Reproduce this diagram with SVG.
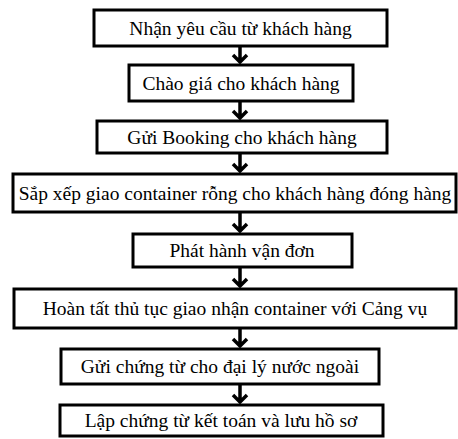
<svg xmlns="http://www.w3.org/2000/svg" width="458" height="439" viewBox="0 0 458 439">
<style>
.box{fill:#fff;stroke:#000;stroke-width:3}
.t{font-family:"Liberation Serif","Times New Roman",serif;font-size:19.5px;fill:#000;text-anchor:middle;dominant-baseline:central}
.c{fill:none;stroke:#000;stroke-width:3.5}
</style>
<rect width="458" height="439" fill="#fff"/>
<g id="connectors">
<path class="c" d="M240 46V62M233 55L240 62L247 55"/>
<path class="c" d="M240 101V118M233 111L240 118L247 111"/>
<path class="c" d="M240 153V171M233 164L240 171L247 164"/>
<path class="c" d="M240 212V231M233 224L240 231L247 224"/>
<path class="c" d="M240 267V286M233 279L240 286L247 279"/>
<path class="c" d="M240 328V346M233 339L240 346L247 339"/>
<path class="c" d="M240 384V402M233 395L240 402L247 395"/>
</g>
<g id="n1"><rect class="box" x="94" y="10" width="293" height="36"/><text class="t" x="240.5" y="28">Nhận yêu cầu từ khách hàng</text></g>
<g id="n2"><rect class="box" x="129" y="65" width="224" height="36"/><text class="t" x="241" y="83">Chào giá cho khách hàng</text></g>
<g id="n3"><rect class="box" x="97" y="121" width="290" height="32"/><text class="t" x="242" y="137">Gửi Booking cho khách hàng</text></g>
<g id="n4"><rect class="box" x="13" y="174" width="443" height="38"/><text class="t" x="235" y="193">Sắp xếp giao container rỗng cho khách hàng đóng hàng</text></g>
<g id="n5"><rect class="box" x="133" y="234" width="219" height="33"/><text class="t" x="242" y="250.5">Phát hành vận đơn</text></g>
<g id="n6"><rect class="box" x="14" y="289" width="442" height="39"/><text class="t" x="235" y="308.5">Hoàn tất thủ tục giao nhận container với Cảng vụ</text></g>
<g id="n7"><rect class="box" x="61" y="349" width="318" height="35"/><text class="t" x="220" y="366.5">Gửi chứng từ cho đại lý nước ngoài</text></g>
<g id="n8"><rect class="box" x="60" y="405" width="323" height="31"/><text class="t" x="221" y="420.5">Lập chứng từ kết toán và lưu hồ sơ</text></g>
</svg>
